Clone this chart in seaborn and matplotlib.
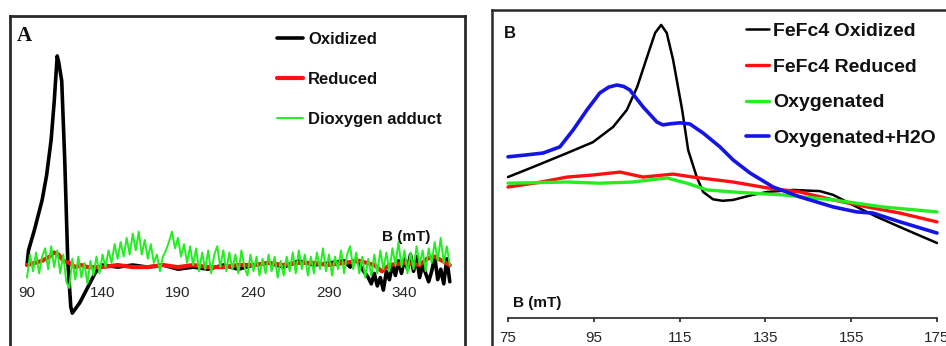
import numpy as np
import pandas as pd
import matplotlib
matplotlib.use("Agg")
import matplotlib.pyplot as plt
import seaborn as sns

sns.set_theme(style="white")
plt.rcParams['font.family'] = ['Liberation Sans', 'DejaVu Sans']

# ---------------- Panel A data ----------------
a_ticks = [90, 140, 190, 240, 290, 340]

a_ox_x = [90, 91, 95, 100, 103, 106, 108, 110, 111, 113, 115, 117, 119, 120, 125, 130, 135, 138,
          140, 150, 160, 170, 180, 190, 200, 210, 220, 230, 240, 250, 260, 270, 280, 290, 300,
          304, 308, 312, 316, 318, 320, 322, 324, 326, 328, 330, 332, 334, 336, 338, 340,
          342, 344, 346, 348, 350, 352, 354, 356, 358, 360, 362, 364, 366, 368, 370]
a_ox_y = [0.0, 0.07, 0.17, 0.31, 0.43, 0.60, 0.78, 1.0, 0.97, 0.88, 0.50, 0.02, -0.20, -0.23, -0.18, -0.11, -0.04, -0.01,
          0.0, -0.01, 0.0, -0.01, 0.0, -0.02, -0.01, -0.02, 0.0, -0.02, 0.0, 0.01, -0.01, 0.02, 0.0, 0.01, 0.02,
          -0.01, 0.03, -0.02, -0.06, -0.09, -0.04, -0.10, -0.06, -0.12, -0.03, -0.07, 0.0, -0.05, 0.02, -0.04, 0.03,
          -0.02, 0.05, -0.03, 0.04, -0.06, 0.0, -0.04, -0.08, -0.03, 0.04, -0.07, -0.02, -0.09, 0.03, -0.08]

a_red_x = [90, 95, 100, 105, 108, 111, 114, 118, 122, 126, 130, 140, 150, 160, 170, 180, 190, 200,
           210, 220, 230, 240, 250, 260, 270, 280, 290, 300, 310, 320, 325, 330, 340, 350, 355, 360, 365, 370]
a_red_y = [0.0, 0.01, 0.02, 0.04, 0.06, 0.05, 0.02, 0.01, -0.01, 0.0, -0.01, -0.01, 0.0, -0.01, -0.01, 0.0, -0.01, 0.0,
           -0.01, -0.01, 0.0, 0.0, 0.01, 0.0, 0.01, 0.01, 0.0, 0.01, 0.02, 0.0, -0.03, 0.0, 0.01, 0.0, 0.03, 0.04, 0.02, 0.0]

a_grn_x = list(range(90, 371, 2))
a_grn_y = [-0.06, 0.05, -0.03, 0.06, -0.04, 0.04, 0.08, -0.02, 0.09, -0.01, 0.07, -0.04, 0.05,
           -0.08, -0.11, 0.03, -0.07, 0.04, -0.06, 0.01, -0.09, 0.02, -0.05, 0.04, -0.04,
           0.05, -0.01, 0.07, 0.01, 0.10, 0.03, 0.11, 0.04, 0.13, 0.05, 0.15, 0.07, 0.16, 0.05, 0.12, 0.03, 0.10, 0.01,
           0.05, -0.03, 0.04, 0.07, 0.11, 0.16, 0.08,
           0.13, 0.04, 0.10, 0.01, 0.09, 0.00, 0.08, -0.03, 0.06, -0.02, 0.07,
           -0.04, 0.05, 0.09, -0.01, 0.07, -0.03, 0.06, -0.02, 0.05, -0.04, 0.07, -0.01, -0.05, 0.05, -0.03,
           0.04, -0.05, 0.03, -0.04, 0.05, -0.03, 0.04, -0.06, 0.02, -0.05, 0.04, -0.03, 0.06, -0.04, 0.07,
           -0.02, 0.05, -0.05, 0.04, -0.04, 0.06, -0.02, 0.08, -0.03, 0.05, -0.05, 0.04, -0.02, 0.07, -0.04,
           0.05, 0.09, -0.02, 0.06, -0.04, 0.04, -0.06, 0.03, -0.05, 0.05, -0.04, 0.07, -0.02, 0.06, -0.03,
           0.08, 0.00, 0.11, -0.01, 0.07, -0.04, 0.06, -0.02, 0.09, 0.00, 0.07, -0.03, 0.08, 0.01, 0.11,
           0.02, 0.13, 0.01, 0.09, 0.00]

# ---------------- Panel B data ----------------
b_ticks = [75, 95, 115, 135, 155, 175]

b_ox_x = [75, 80.8, 88.8, 94.8, 99.5, 102.7, 105.1, 107.4, 109.3, 110.7, 112, 113.5, 115.6, 117, 119, 120.5,
          122.8, 125, 127.5, 132, 135.4, 141.4, 147.7, 150.8, 156.3, 161, 168, 175]
b_ox_y = [0.481, 0.515, 0.563, 0.60, 0.652, 0.71, 0.788, 0.89, 0.973, 1.0, 0.973, 0.88, 0.71, 0.573, 0.481, 0.43,
          0.405, 0.400, 0.403, 0.42, 0.43, 0.437, 0.433, 0.42, 0.379, 0.345, 0.30, 0.256]

b_red_x = [75, 82, 88.8, 94.8, 101.1, 106.5, 113.5, 118.1, 127.5, 135.4, 143, 150.8, 158.7, 166.4, 175]
b_red_y = [0.447, 0.462, 0.481, 0.488, 0.498, 0.481, 0.491, 0.481, 0.464, 0.444, 0.43, 0.403, 0.379, 0.358, 0.328]

b_grn_x = [75, 82, 88.8, 96.4, 104.1, 112, 116.7, 121.4, 127.5, 139, 150.8, 162.4, 175]
b_grn_y = [0.46, 0.462, 0.464, 0.46, 0.464, 0.478, 0.46, 0.437, 0.43, 0.42, 0.403, 0.379, 0.362]

b_blu_x = [75, 79, 83.2, 87.1, 90.2, 93.4, 96.4, 98.5, 100.4, 102, 103.4, 106.5, 109.7, 111.1, 113, 115.1, 117.4,
           120.5, 124.4, 127.5, 131.4, 136.8, 143.1, 150.8, 156.3, 160.1, 166.4, 175]
b_blu_y = [0.55, 0.556, 0.563, 0.584, 0.642, 0.71, 0.768, 0.788, 0.795, 0.790, 0.778, 0.72, 0.669, 0.659, 0.663,
           0.666, 0.662, 0.631, 0.584, 0.539, 0.495, 0.447, 0.413, 0.379, 0.362, 0.358, 0.328, 0.29]

# ---------------- Figure ----------------
W, H = 946, 346
fig = plt.figure(figsize=(W / 100, H / 100), dpi=100)


def fx(px):
    return px / W


def fy(py):
    return 1 - py / H


frame_col = "#2a2a2a"
bold = dict(family=['Liberation Sans', 'DejaVu Sans'], weight='bold')

# Panel A
axA = fig.add_axes([fx(10), fy(352), fx(465) - fx(10), fy(16) - fy(352)])
sns.lineplot(x=a_ox_x, y=a_ox_y, ax=axA, color="black", lw=2.6, label="Oxidized",
             estimator=None, sort=False)
sns.lineplot(x=a_red_x, y=a_red_y, ax=axA, color="#ff1010", lw=3.0, label="Reduced",
             estimator=None, sort=False)
sns.lineplot(x=a_grn_x, y=a_grn_y, ax=axA, color="#22ee22", lw=1.4, label="Dioxygen adduct",
             estimator=None, sort=False)
axA.set_xlim(78.74, 380.07)
axA.set_ylim(-0.416, 1.191)
axA.set_xticks(a_ticks)
axA.set_xticklabels([str(t) for t in a_ticks], fontsize=11.5, fontweight='bold', color="#111111")
axA.set_yticks([])
axA.set_xlabel("")
axA.set_ylabel("")
for s in ['left', 'top', 'right']:
    axA.spines[s].set_color(frame_col)
    axA.spines[s].set_linewidth(2.0)
axA.spines['bottom'].set_position(('data', 0))
axA.spines['bottom'].set_color('none')
axA.tick_params(axis='x', length=0, pad=15)
legA = axA.legend(loc='upper left', bbox_to_anchor=(fx(277), fy(32)), bbox_transform=fig.transFigure,
                  frameon=False, borderpad=0, borderaxespad=0, handlelength=1.56, handletextpad=0.3,
                  labelspacing=1.5, prop=dict(size=12, weight='bold', family='Liberation Sans'))
for t in legA.get_texts():
    t.set_color("#111111")
fig.text(fx(17), fy(36), "A", fontsize=15, fontweight='bold', family='Liberation Serif',
         ha='left', va='center', color="#111111")
fig.text(fx(382), fy(237), "B (mT)", fontsize=11, ha='left', va='center', color="#111111", **bold)

# Panel B
axB = fig.add_axes([fx(492), fy(352), fx(955) - fx(492), fy(10) - fy(352)])
sns.lineplot(x=b_ox_x, y=b_ox_y, ax=axB, color="black", lw=1.8, label="FeFc4 Oxidized",
             estimator=None, sort=False)
sns.lineplot(x=b_red_x, y=b_red_y, ax=axB, color="#ff1010", lw=2.4, label="FeFc4 Reduced",
             estimator=None, sort=False)
sns.lineplot(x=b_grn_x, y=b_grn_y, ax=axB, color="#22ee22", lw=2.4, label="Oxygenated",
             estimator=None, sort=False)
sns.lineplot(x=b_blu_x, y=b_blu_y, ax=axB, color="#1414e6", lw=2.6, label="Oxygenated+H2O",
             estimator=None, sort=False)
axB.set_xlim(71.27, 179.2)
axB.set_ylim(-0.116, 1.051)
axB.set_xticks(b_ticks)
axB.set_xticklabels([str(t) for t in b_ticks], fontsize=11, fontweight='bold', color="#111111")
axB.set_yticks([])
axB.set_xlabel("")
axB.set_ylabel("")
for s in ['left', 'top', 'right']:
    axB.spines[s].set_color(frame_col)
    axB.spines[s].set_linewidth(1.8)
axB.spines['bottom'].set_position(('data', 0))
axB.spines['bottom'].set_bounds(75, 175)
axB.spines['bottom'].set_color("#333333")
axB.spines['bottom'].set_linewidth(1.3)
axB.tick_params(axis='x', direction='out', length=3, width=1.3, color="#333333", pad=6, bottom=True)
legB = axB.legend(loc='upper left', bbox_to_anchor=(fx(746), fy(22)), bbox_transform=fig.transFigure,
                  frameon=False, borderpad=0, borderaxespad=0, handlelength=1.2, handletextpad=0.2,
                  labelspacing=0.94, prop=dict(size=14, weight='bold', family='Liberation Sans'))
for t in legB.get_texts():
    t.set_color("#111111")
fig.text(fx(504), fy(33), "B", fontsize=12, ha='left', va='center', color="#111111", **bold)
fig.text(fx(513), fy(303), "B (mT)", fontsize=11, ha='left', va='center', color="#111111", **bold)

fig.savefig("out.png", dpi=100)
